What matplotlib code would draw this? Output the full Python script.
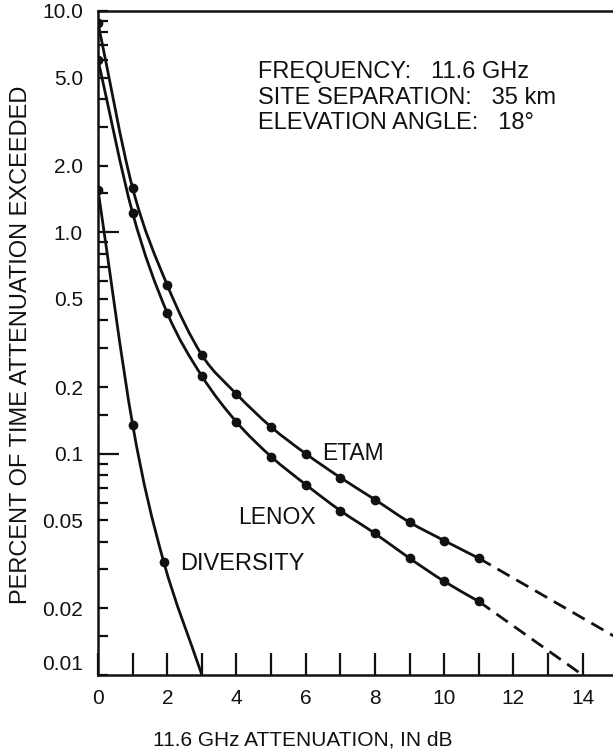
import numpy as np
import matplotlib
matplotlib.use('Agg')
import matplotlib.pyplot as plt
from matplotlib.path import Path
from matplotlib.patches import PathPatch
from matplotlib.transforms import ScaledTranslation

plt.rcParams['font.family'] = ['Liberation Sans', 'DejaVu Sans']

# 读图得到的数据 (衰减 dB, 超过该衰减的时间百分比)
etam_db = [0, 1, 2, 3, 4, 5, 6, 7, 8, 9, 10, 11]
etam_pct = [8.8, 1.58, 0.577, 0.279, 0.186, 0.132, 0.1, 0.078, 0.062, 0.049, 0.0405, 0.0337]
etam_ext_db = [11, 15]
etam_ext_pct = [0.0337, 0.0147]

lenox_db = [0, 1, 2, 3, 4, 5, 6, 7, 8, 9, 10, 11]
lenox_pct = [6.0, 1.22, 0.432, 0.224, 0.139, 0.097, 0.0725, 0.0553, 0.0436, 0.0337, 0.0265, 0.0215]
lenox_ext_db = [11, 14]
lenox_ext_pct = [0.0215, 0.01]

div_db = [0, 1, 1.9]
div_pct = [1.55, 0.135, 0.0323]
div_end_db = 3
div_end_pct = 0.01

ytick_vals = [0.01, 0.02, 0.05, 0.1, 0.2, 0.5, 1.0, 2.0, 5.0, 10.0]
ytick_text = ['0.01', '0.02', '0.05', '0.1', '0.2', '0.5', '1.0', '2.0', '5.0', '10.0']
ytick_minor = [0.015, 0.03, 0.04, 0.06, 0.07, 0.08, 0.09,
               0.15, 0.3, 0.4, 0.6, 0.7, 0.8, 0.9,
               1.5, 3, 4, 6, 7, 8, 9]
xtick_vals = [0, 2, 4, 6, 8, 10, 12, 14]
xtick_minor = [1, 3, 5, 7, 9, 11, 13]

info_lines = ['FREQUENCY:   11.6 GHz', 'SITE SEPARATION:   35 km', 'ELEVATION ANGLE:   18\u00b0']

INK = '#111111'


# 在 (x, log y) 空间里用平滑的贝塞尔曲线连接各点
def smooth_curve(xs, ys):
    x = np.asarray(xs, float)
    ly = np.log10(np.asarray(ys, float))
    mx = np.gradient(x)
    my = np.gradient(ly)
    verts = [(x[0], ly[0])]
    codes = [Path.MOVETO]
    for i in range(len(x) - 1):
        verts.append((x[i] + mx[i] / 3, ly[i] + my[i] / 3))
        verts.append((x[i + 1] - mx[i + 1] / 3, ly[i + 1] - my[i + 1] / 3))
        verts.append((x[i + 1], ly[i + 1]))
        codes += [Path.CURVE4] * 3
    verts = np.array(verts)
    verts[:, 1] = 10 ** verts[:, 1]
    return Path(verts, codes)


fig = plt.figure(figsize=(6.13, 7.53), dpi=100)
ax = fig.add_axes([0.160, 0.1036, 0.840, 0.8818])
ax.set_yscale('log')
ax.set_xlim(0, 14.88)
ax.set_ylim(0.01, 10.0)

for xs, ys in [(etam_db, etam_pct), (lenox_db, lenox_pct),
               (div_db + [div_end_db], div_pct + [div_end_pct])]:
    ax.add_patch(PathPatch(smooth_curve(xs, ys), fill=False, lw=2.0,
                           edgecolor=INK, transform=ax.transData))

ax.plot(etam_db, etam_pct, 'o', color=INK, ms=6)
ax.plot(lenox_db, lenox_pct, 'o', color=INK, ms=6)
ax.plot(div_db, div_pct, 'o', color=INK, ms=6)
ax.plot(etam_ext_db, etam_ext_pct, color=INK, lw=2.0, dashes=(5, 2.8))
ax.plot(lenox_ext_db, lenox_ext_pct, color=INK, lw=2.0, dashes=(5, 2.8))

# 曲线名称
ax.text(6.47, 0.1, 'ETAM', fontsize=16.5, color=INK, va='center')
ax.text(4.05, 0.0515, 'LENOX', fontsize=16.5, color=INK, va='center')
ax.text(2.37, 0.0318, 'DIVERSITY', fontsize=17, color=INK, va='center')

# 参数说明
for i, line in enumerate(info_lines):
    ax.text(0.311, 0.908 - i * 0.0384, line, transform=ax.transAxes,
            fontsize=17, color=INK, va='center')

# 坐标轴
ax.spines['right'].set_visible(False)
for s in ['left', 'bottom', 'top']:
    ax.spines[s].set_linewidth(1.8)
    ax.spines[s].set_color(INK)

ax.set_yticks(ytick_vals)
ax.set_yticklabels(ytick_text)
ax.set_yticks(ytick_minor, minor=True)
ax.yaxis.set_minor_formatter(matplotlib.ticker.NullFormatter())
ax.tick_params(axis='y', which='both', direction='in', length=7.5, width=1.6,
               color=INK, labelsize=15, labelcolor=INK, pad=11, right=False)
for t, v in zip(ax.yaxis.get_major_ticks(), ytick_vals):
    if v in (0.1, 1.0):
        t.tick1line.set_markersize(15)

ax.set_xticks(xtick_vals)
ax.set_xticks(xtick_minor, minor=True)
ax.tick_params(axis='x', which='both', direction='in', length=16, width=1.6,
               color=INK, labelsize=15, labelcolor=INK, pad=10, top=False)

# 0.01 标签略微上移
lab = ax.get_yticklabels()[0]
lab.set_transform(lab.get_transform() + ScaledTranslation(0, 12 / 100, fig.dpi_scale_trans))

ax.set_ylabel('PERCENT OF TIME ATTENUATION EXCEEDED', fontsize=17, color=INK)
ax.yaxis.set_label_coords(-0.128, 0.497)
ax.set_xlabel('11.6 GHz ATTENUATION, IN dB', fontsize=15, color=INK)
ax.xaxis.set_label_coords(0.398, -0.084)

fig.savefig('out.png', dpi=100, facecolor='white')
